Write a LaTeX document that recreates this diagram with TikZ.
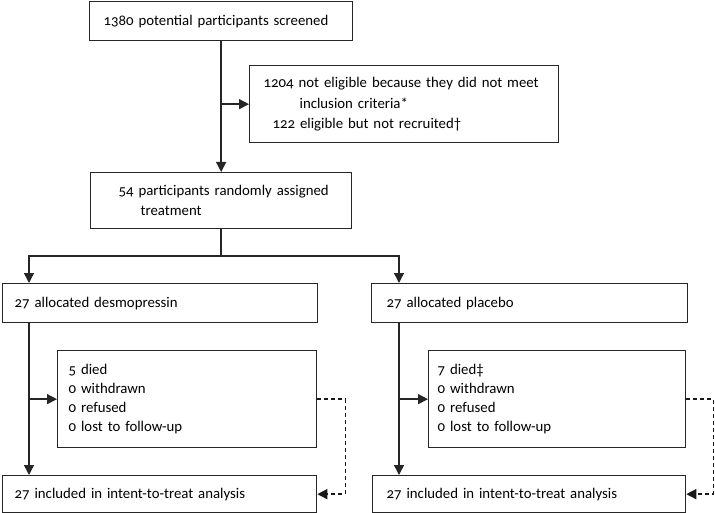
\documentclass[tikz,border=0pt]{standalone}
\usepackage{fontspec}
\setmainfont{Carlito}[Numbers=OldStyle, WordSpace=0.8]
\usetikzlibrary{arrows.meta}

\begin{document}
\begin{tikzpicture}[x=1pt, y=-1pt,
	box/.style={rectangle, draw=black!85, line width=1.3pt, anchor=north west, align=left, inner ysep=0pt, font=\fontsize{14.8}{20.5}\selectfont},
	flow/.style={line width=1.4pt, draw=black!85, -{Triangle[length=10pt, width=10pt]}},
	backflow/.style={flow, draw=black!90, dash pattern=on 4pt off 3pt, line width=1.5pt}]
	\useasboundingbox (0,0) rectangle (715,513);

	\node[box, minimum width=263, minimum height=39, text width=235, inner xsep=14](screened) at (89,1){1380 potential participants screened};
	\node[box, minimum width=309, minimum height=77, text width=281, inner xsep=14](excluded) at (249,65){1204 not eligible because they did not meet\\\hspace*{36pt}inclusion criteria*\\\hspace*{9pt}122 eligible but not recruited†};
	\node[box, minimum width=261, minimum height=56, text width=233, inner xsep=14](randomised) at (90,172){\hspace*{14pt}54 participants randomly assigned\\\hspace*{36pt}treatment};

	\node[box, minimum width=315, minimum height=39, text width=291, inner xsep=12](desmo) at (2,283){27 allocated desmopressin};
	\node[box, minimum width=316, minimum height=39, text width=286, inner xsep=15](placebo) at (371,283){27 allocated placebo};

	\node[box, minimum width=259, minimum height=97, text width=237, inner xsep=11, font=\fontsize{14.8}{19}\selectfont](lossDesmo) at (57,350){5 died\\0 withdrawn\\0 refused\\0 lost to follow-up};
	\node[box, minimum width=257, minimum height=97, text width=239, inner xsep=9, font=\fontsize{14.8}{19}\selectfont](lossPlacebo) at (428,350){7 died‡\\0 withdrawn\\0 refused\\0 lost to follow-up};

	\node[box, minimum width=314, minimum height=37, text width=290, inner xsep=12](ittDesmo) at (2,475){27 included in intent-to-treat analysis};
	\node[box, minimum width=313, minimum height=37, text width=285, inner xsep=8](ittPlacebo) at (372,475){27 included in intent-to-treat analysis};

	% screening
	\draw[flow](screened.south) -- (randomised.north);
	\draw[flow](screened.south |- excluded.west) -- (excluded.west);

	% allocation
	\coordinate(split) at (randomised.south |- 0,256);
	\draw[line width=1.4pt, draw=black!85](randomised.south) -- (split);
	\draw[flow](split) -| ([xshift=27pt]desmo.north west);
	\draw[flow](split) -| ([xshift=28pt]placebo.north west);

	% follow-up, desmopressin
	\draw[flow]([xshift=27pt]desmo.south west) -- ([xshift=27pt]ittDesmo.north west);
	\draw[flow]([xshift=27pt]desmo.south west |- lossDesmo.west) -- (lossDesmo.west);
	\draw[backflow](lossDesmo.east) -- ++(28,0) |- (ittDesmo.east);

	% follow-up, placebo
	\draw[flow]([xshift=28pt]placebo.south west) -- ([xshift=27pt]ittPlacebo.north west);
	\draw[flow]([xshift=28pt]placebo.south west |- lossPlacebo.west) -- (lossPlacebo.west);
	\draw[backflow](lossPlacebo.east) -- ++(27,0) |- (ittPlacebo.east);

\end{tikzpicture}
\end{document}
